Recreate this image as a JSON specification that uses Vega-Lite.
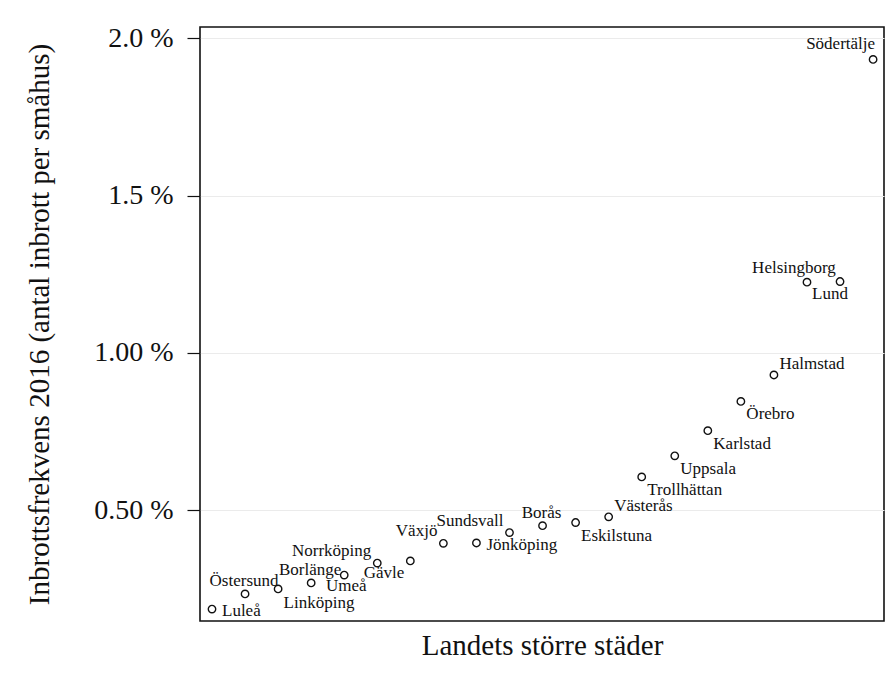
{
  "$schema": "https://vega.github.io/schema/vega-lite/v6.json",
  "width": 684,
  "height": 594,
  "autosize": {"type": "none"},
  "padding": {"left": 200, "top": 27, "right": 6, "bottom": 54},
  "background": "white",
  "config": {
    "view": {"stroke": "#111111", "strokeWidth": 1.6},
    "font": "Liberation Serif",
    "axis": {"labelFont": "Liberation Serif", "titleFont": "Liberation Serif", "titleFontWeight": "normal", "labelColor": "#111111", "titleColor": "#111111"}
  },
  "data": {
    "values": [
      {"stad": "Luleå", "rang": 1, "frekvens": 0.186},
      {"stad": "Östersund", "rang": 2, "frekvens": 0.234},
      {"stad": "Linköping", "rang": 3, "frekvens": 0.250},
      {"stad": "Borlänge", "rang": 4, "frekvens": 0.269},
      {"stad": "Umeå", "rang": 5, "frekvens": 0.294},
      {"stad": "Norrköping", "rang": 6, "frekvens": 0.332},
      {"stad": "Gävle", "rang": 7, "frekvens": 0.339},
      {"stad": "Växjö", "rang": 8, "frekvens": 0.395},
      {"stad": "Jönköping", "rang": 9, "frekvens": 0.396},
      {"stad": "Sundsvall", "rang": 10, "frekvens": 0.429},
      {"stad": "Borås", "rang": 11, "frekvens": 0.451},
      {"stad": "Eskilstuna", "rang": 12, "frekvens": 0.461},
      {"stad": "Västerås", "rang": 13, "frekvens": 0.479},
      {"stad": "Trollhättan", "rang": 14, "frekvens": 0.606},
      {"stad": "Uppsala", "rang": 15, "frekvens": 0.673},
      {"stad": "Karlstad", "rang": 16, "frekvens": 0.753},
      {"stad": "Örebro", "rang": 17, "frekvens": 0.846},
      {"stad": "Halmstad", "rang": 18, "frekvens": 0.930},
      {"stad": "Helsingborg", "rang": 19, "frekvens": 1.225},
      {"stad": "Lund", "rang": 20, "frekvens": 1.227},
      {"stad": "Södertälje", "rang": 21, "frekvens": 1.933}
    ]
  },
  "encoding": {
    "x": {
      "field": "rang", "type": "quantitative",
      "scale": {"domain": [0.637, 21.33], "nice": false, "zero": false},
      "axis": {"title": "Landets större städer", "titleFontSize": 29, "labels": false, "ticks": false, "domain": false, "grid": false, "titlePadding": 10, "minExtent": 0}
    },
    "y": {
      "field": "frekvens", "type": "quantitative",
      "scale": {"domain": [0.148, 2.036], "nice": false, "zero": false},
      "axis": {
        "title": "Inbrottsfrekvens 2016 (antal inbrott per småhus)",
        "titleFontSize": 29,
        "titlePadding": 39,
        "values": [0.5, 1, 1.5, 2],
        "labelExpr": "datum.value == 2 ? '2.0 %' : datum.value == 1.5 ? '1.5 %' : datum.value == 1 ? '1.00 %' : '0.50 %'",
        "labelFontSize": 28,
        "labelPadding": 14,
        "tickSize": 13,
        "tickColor": "#111111",
        "tickWidth": 1.2,
        "domain": false,
        "grid": true,
        "gridColor": "#ebebeb",
        "gridWidth": 1
      }
    }
  },
  "layer": [
    {"mark": {"type": "point", "shape": "circle", "size": 55, "filled": false, "stroke": "#111111", "strokeWidth": 1.4, "opacity": 1}},
    {"transform": [{"filter": {"field": "stad", "oneOf": ["Östersund", "Borlänge", "Borås"]}}],
     "mark": {"type": "text", "font": "Liberation Serif", "fontSize": 17, "color": "#111111", "align": "center", "baseline": "alphabetic", "dx": -1, "dy": -8},
     "encoding": {"text": {"field": "stad"}}},
    {"transform": [{"filter": {"field": "stad", "oneOf": ["Umeå"]}}],
     "mark": {"type": "text", "font": "Liberation Serif", "fontSize": 17, "color": "#111111", "align": "center", "baseline": "alphabetic", "dx": 2, "dy": 15.5},
     "encoding": {"text": {"field": "stad"}}},
    {"transform": [{"filter": {"field": "stad", "oneOf": ["Linköping"]}}],
     "mark": {"type": "text", "font": "Liberation Serif", "fontSize": 17, "color": "#111111", "align": "left", "baseline": "alphabetic", "dx": 5.5, "dy": 19.5},
     "encoding": {"text": {"field": "stad"}}},
    {"transform": [{"filter": {"field": "stad", "oneOf": ["Eskilstuna", "Trollhättan", "Uppsala", "Karlstad", "Örebro"]}}],
     "mark": {"type": "text", "font": "Liberation Serif", "fontSize": 17, "color": "#111111", "align": "left", "baseline": "alphabetic", "dx": 5.5, "dy": 18},
     "encoding": {"text": {"field": "stad"}}},
    {"transform": [{"filter": {"field": "stad", "oneOf": ["Luleå", "Jönköping"]}}],
     "mark": {"type": "text", "font": "Liberation Serif", "fontSize": 17, "color": "#111111", "align": "left", "baseline": "alphabetic", "dx": 10, "dy": 7},
     "encoding": {"text": {"field": "stad"}}},
    {"transform": [{"filter": {"field": "stad", "oneOf": ["Västerås", "Halmstad"]}}],
     "mark": {"type": "text", "font": "Liberation Serif", "fontSize": 17, "color": "#111111", "align": "left", "baseline": "alphabetic", "dx": 5.5, "dy": -5.5},
     "encoding": {"text": {"field": "stad"}}},
    {"transform": [{"filter": {"field": "stad", "oneOf": ["Norrköping", "Växjö", "Sundsvall"]}}],
     "mark": {"type": "text", "font": "Liberation Serif", "fontSize": 17, "color": "#111111", "align": "right", "baseline": "alphabetic", "dx": -6, "dy": -7},
     "encoding": {"text": {"field": "stad"}}},
    {"transform": [{"filter": {"field": "stad", "oneOf": ["Gävle"]}}],
     "mark": {"type": "text", "font": "Liberation Serif", "fontSize": 17, "color": "#111111", "align": "right", "baseline": "alphabetic", "dx": -6, "dy": 17.3},
     "encoding": {"text": {"field": "stad"}}},
    {"transform": [{"filter": {"field": "stad", "oneOf": ["Helsingborg"]}}],
     "mark": {"type": "text", "font": "Liberation Serif", "fontSize": 17, "color": "#111111", "align": "center", "baseline": "alphabetic", "dx": -13, "dy": -9},
     "encoding": {"text": {"field": "stad"}}},
    {"transform": [{"filter": {"field": "stad", "oneOf": ["Lund"]}}],
     "mark": {"type": "text", "font": "Liberation Serif", "fontSize": 17, "color": "#111111", "align": "center", "baseline": "alphabetic", "dx": -10, "dy": 17.6},
     "encoding": {"text": {"field": "stad"}}},
    {"transform": [{"filter": {"field": "stad", "oneOf": ["Södertälje"]}}],
     "mark": {"type": "text", "font": "Liberation Serif", "fontSize": 17, "color": "#111111", "align": "right", "baseline": "alphabetic", "dx": 2, "dy": -10},
     "encoding": {"text": {"field": "stad"}}}
  ]
}
